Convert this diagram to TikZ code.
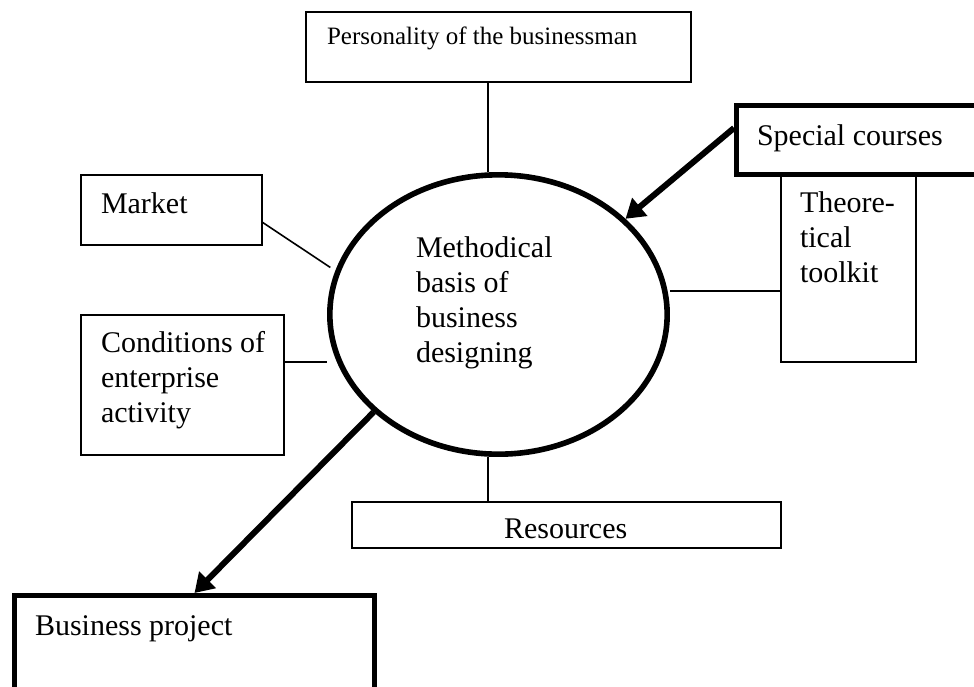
\documentclass[tikz,border=0pt]{standalone}
\usepackage{fontspec}
\setmainfont{Liberation Serif}
\usetikzlibrary{arrows.meta,shapes.geometric}
\newdimen\pxu \pxu=0.75pt
% #1 width, #2 height, #3 left indent, #4 first baseline from top (all px), #5 text
\newcommand\bx[5]{\vbox to #2\pxu{\hsize=#1\pxu\parindent=0pt\leftskip=#3\pxu\rightskip=0pt plus 1fil\parfillskip=0pt plus 1fil\hbox{}\vskip\dimexpr#4\pxu-\baselineskip\relax #5\par\vss}}
\tikzset{
  mainfont/.style={font=\fontsize{22.5}{26.25}\selectfont},
  smallfont/.style={font=\fontsize{18.75}{22}\selectfont},
  thinbox/.style={draw, line width=1.2pt, inner sep=0pt, outer sep=0pt, rectangle, mainfont},
  thickbox/.style={draw, line width=3.75pt, inner sep=0pt, rectangle, mainfont},
  ellbox/.style={draw, ellipse, line width=4.2pt, inner sep=0pt, minimum width=253pt, minimum height=209.5pt, mainfont},
  link/.style={line width=1.2pt},
  bigarrow/.style={line width=4.5pt, -{Triangle[length=14pt,width=17pt]}}
}
\begin{document}
\begin{tikzpicture}[x=0.75pt, y=-0.75pt]
\useasboundingbox (0,0) rectangle (974,686);
\clip (0,0) rectangle (974,686);
\fill[white] (0,0) rectangle (974,686);

\node[thinbox, smallfont, anchor=north west] (pers) at (306,12) {\bx{385}{70}{21}{32}{Personality of the businessman}};
\node[thinbox, anchor=north west] (mkt) at (81,175) {\bx{181}{70}{20}{38}{Market}};
\node[thinbox, anchor=north west] (cond) at (81,315) {\bx{203}{140}{20}{37}{Conditions of\\enterprise\\activity}};
\node[thinbox, anchor=north west] (theo) at (781,175) {\bx{135}{187}{19}{37}{Theore-\\tical\\toolkit}};
\node[thinbox, anchor=north west] (res) at (352,502) {\bx{429}{46}{152}{36}{Resources}};
\node[thickbox, anchor=north west] (spec) at (734,103) {\bx{263.5}{69}{20.5}{39.5}{Special courses}};
\node[thickbox, anchor=north west] (bp) at (12,593) {\bx{360}{130}{20.5}{39.5}{Business project}};

\node[ellbox] (ell) at (498.5,314.5) {\smash{\rlap{\kern-82.5\pxu\raise57.5\pxu\vtop{\hsize=200\pxu\parindent=0pt\rightskip=0pt plus 1fil Methodical\\basis of\\business\\designing}}}};

\draw[link] ([xshift=-7.875pt]pers.south) -- ([xshift=-7.875pt]pers.south |- ell.north);
\draw[link] ([xshift=-7.875pt]ell.south) -- ([xshift=-7.875pt]ell.south |- res.north);
\draw[link, shorten >=4.5pt] ([yshift=-9pt]mkt.east) -- (ell.165);
\draw[link] ([yshift=17.25pt]cond.east) -- ([yshift=17.25pt]cond.east -| ell.west);
\draw[link] ([yshift=-16.875pt]theo.west) -- ([yshift=-16.875pt]theo.west -| ell.east);

\draw[bigarrow] ([yshift=9pt]spec.west) -- (ell.37);
\draw[bigarrow] (ell.218) -- (bp.north);
\end{tikzpicture}
\end{document}
